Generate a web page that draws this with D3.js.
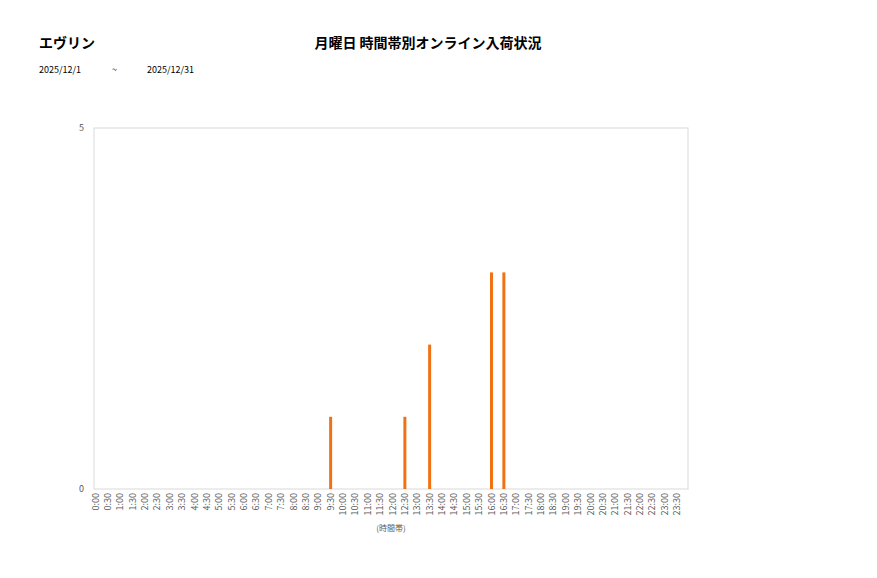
<!DOCTYPE html>
<html>
<head>
<meta charset="utf-8">
<script src="https://cdn.jsdelivr.net/npm/d3@7"></script>
<style>
  body { margin: 0; background: #fff; }
  text { font-family: "Noto Sans CJK JP", "Noto Sans", sans-serif; }
</style>
</head>
<body>
<svg id="chart" width="877" height="578"></svg>
<script>
// 30-minute slots, 0:00 .. 23:30
const slots = d3.range(48).map(i => Math.floor(i / 2) + ":" + (i % 2 ? "30" : "00"));
const counts = {
  "9:30": 1,
  "12:30": 1,
  "13:30": 2,
  "16:00": 3,
  "16:30": 3
};
const yTicks = [0, 5];

const svg = d3.select("#chart");
const plot = { left: 94, right: 688, top: 128, bottom: 489 };

const x = d3.scaleBand()
  .domain(slots)
  .range([plot.left, plot.right]);

const y = d3.scaleLinear()
  .domain([0, 5])
  .range([plot.bottom, plot.top]);

// titles
svg.append("text").attr("x", 39).attr("y", 48)
  .attr("font-size", 14).attr("font-weight", "bold").text("エヴリン");
svg.append("text").attr("x", 428).attr("y", 48).attr("text-anchor", "middle")
  .attr("font-size", 14).attr("font-weight", "bold").text("月曜日 時間帯別オンライン入荷状況");
svg.append("text").attr("x", 39).attr("y", 73).attr("font-size", 9).text("2025/12/1");
svg.append("text").attr("x", 112).attr("y", 73).attr("font-size", 9).text("~");
svg.append("text").attr("x", 147).attr("y", 73).attr("font-size", 9).text("2025/12/31");

// plot frame
svg.append("rect")
  .attr("x", plot.left).attr("y", plot.top)
  .attr("width", plot.right - plot.left).attr("height", plot.bottom - plot.top)
  .attr("fill", "none").attr("stroke", "#d9d9d9");

// y labels
svg.append("g").selectAll("text")
  .data(yTicks)
  .enter()
  .append("text")
  .attr("x", 84)
  .attr("y", d => y(d) + 3)
  .attr("text-anchor", "end")
  .attr("font-size", 9)
  .attr("fill", "#595959")
  .text(d => d);

// bars
svg.append("g").selectAll("rect")
  .data(slots.filter(s => counts[s]))
  .enter()
  .append("rect")
  .attr("x", d => x(d) + 1.5 - 1.5)
  .attr("y", d => y(counts[d]))
  .attr("width", 3)
  .attr("height", d => plot.bottom - y(counts[d]))
  .attr("fill", "#f07215");

// x labels, rotated
svg.append("g").selectAll("text")
  .data(slots)
  .enter()
  .append("text")
  .attr("transform", d => `translate(${x(d) + 4.5},493) rotate(-90)`)
  .attr("text-anchor", "end")
  .attr("font-size", 9)
  .attr("fill", "#595959")
  .text(d => d);

svg.append("text").attr("x", 391).attr("y", 531).attr("text-anchor", "middle")
  .attr("font-size", 8).attr("fill", "#595959").text("(時間帯)");
</script>
</body>
</html>
